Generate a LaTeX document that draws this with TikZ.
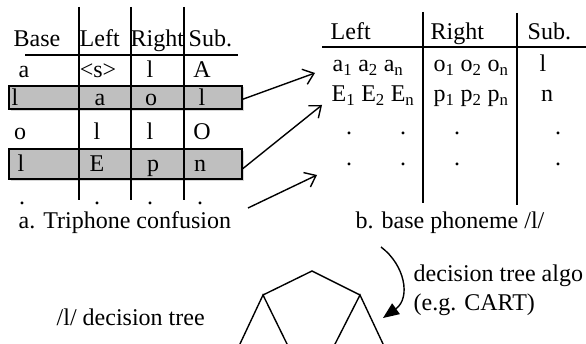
\documentclass[tikz,border=0pt]{standalone}
\usepackage{fontspec}
\setmainfont{Liberation Serif}
\usetikzlibrary{arrows.meta}
\newcommand{\sbx}[1]{\textsubscript{#1}}
\begin{document}
\begin{tikzpicture}[x=1pt,y=-1pt, line width=1.4pt,
  txt/.style={inner sep=0pt, anchor=base, font=\fontsize{24}{28}\selectfont},
  txtw/.style={txt, anchor=base west},
  gbox/.style={draw=black, fill=black!25, line width=1.6pt},
  shad/.style={fill=black!16, draw=none},
  opena/.style={-{Straight Barb[length=10pt,width=16pt,line width=1.4pt]}},
  filla/.style={-{Triangle[length=16pt,width=13pt]}}]
\useasboundingbox (0,0) rectangle (586,344);

% ---- left table ----
\fill[shad] (11,87) rectangle (244,111);
\node[gbox, minimum width=233pt, minimum height=23pt, inner sep=0pt, anchor=north west] (box1) at (8,85) {};
\fill[shad] (11,151) rectangle (244,181);
\node[gbox, minimum width=233pt, minimum height=30pt, inner sep=0pt, anchor=north west] (box2) at (8,148) {};

\draw (79,7) coordinate (v1t) -- (79,200) coordinate (v1b);
\draw (131,7) coordinate (v2t) -- (131,200) coordinate (v2b);
\draw (184,7) coordinate (v3t) -- (184,200) coordinate (v3b);
\draw (25,55) coordinate (h1l) -- (238,55) coordinate (h1r);

\node[txt] (hbase) at (37,47) {Base};
\node[txtw] (hleft) at (79,47) {Left};
\node[txtw] (hright) at (130,47) {Right};
\node[txtw] (hsub) at (188,47) {Sub.};

\node[txt] (r1a) at (24,78) {a};
\node[txt] (r1b) at (98,78) {<s>};
\node[txt] (r1c) at (150,78) {l};
\node[txt] (r1d) at (202,78) {A};

\node[txt] (r2a) at (15,106) {l};
\node[txt] (r2b) at (100,106) {a};
\node[txt] (r2c) at (151,106) {o};
\node[txt] (r2d) at (202,106) {l};

\node[txt] (r3a) at (20,140) {o};
\node[txt] (r3b) at (97,140) {l};
\node[txt] (r3c) at (150,140) {l};
\node[txt] (r3d) at (202,140) {O};

\node[txt] (r4a) at (21,172) {l};
\node[txt] (r4b) at (97,172) {E};
\node[txt] (r4c) at (153,172) {p};
\node[txt] (r4d) at (200,172) {n};

\node[txt] (d1) at (22,205) {.};
\node[txt] (d2) at (97,205) {.};
\node[txt] (d3) at (150,205) {.};
\node[txt] (d4) at (200,205) {.};

\node[txtw] (capa) at (18,229) {a. Triphone confusion};

% ---- right table ----
\draw (423,12) coordinate (w1t) -- (423,203) coordinate (w1b);
\draw (517,13) coordinate (w2t) -- (517,205) coordinate (w2b);
\draw (322,47) coordinate (g1l) -- (586,47) coordinate (g1r);

\node[txtw] (rleft) at (330,40) {Left};
\node[txtw] (rright) at (430,40) {Right};
\node[txtw] (rsub) at (527,40) {Sub.};

\node[txtw] (s1a) at (332,72) {a\sbx{1} a\sbx{2} a\sbx{n}};
\node[txtw] (s1b) at (433,72) {o\sbx{1} o\sbx{2} o\sbx{n}};
\node[txt] (s1c) at (543,72) {l};

\node[txtw] (s2a) at (331,102) {E\sbx{1} E\sbx{2} E\sbx{n}};
\node[txtw] (s2b) at (433,102) {p\sbx{1} p\sbx{2} p\sbx{n}};
\node[txt] (s2c) at (547,102) {n};

\node[txt] (e1) at (349,135) {.};
\node[txt] (e2) at (403,135) {.};
\node[txt] (e3) at (457,135) {.};
\node[txt] (e4) at (558,135) {.};
\node[txt] (f1) at (349,166) {.};
\node[txt] (f2) at (403,166) {.};
\node[txt] (f3) at (457,166) {.};
\node[txt] (f4) at (558,166) {.};

\node[txtw] (capb) at (355,229) {b. base phoneme /l/};

% ---- arrows ----
\coordinate (t1) at (315,73);
\coordinate (t2) at (322,105);
\coordinate (s3) at (248,208);
\coordinate (t3) at (317,175);
\draw[opena] (box1.east) ++(0,2) coordinate (s1) -- (t1);
\draw[opena] (box2.east) ++(0,5) coordinate (s2) -- (t2);
\draw[opena] (s3) -- (t3);

% ---- decision tree ----
\coordinate (cs) at (381,247);
\coordinate (ce) at (383,318);
\draw[filla] (cs) .. controls (405,265) and (411,298) .. (ce);
\node[txtw] (alg1) at (413,282) {decision tree algo};
\node[txtw] (alg2) at (413,311) {(e.g. CART)};
\node[txtw] (ltree) at (56,326) {/l/ decision tree};

\coordinate (apex) at (312,271);
\coordinate (ls) at (263,295);
\coordinate (rs) at (360,295);
\coordinate (l1) at (239,346);
\coordinate (l2) at (288,346);
\coordinate (r1) at (334,346);
\coordinate (r2) at (384,346);
\draw (ls) -- (apex) -- (rs);
\draw (l1) -- (ls) -- (l2);
\draw (r1) -- (rs) -- (r2);
\end{tikzpicture}
\end{document}
